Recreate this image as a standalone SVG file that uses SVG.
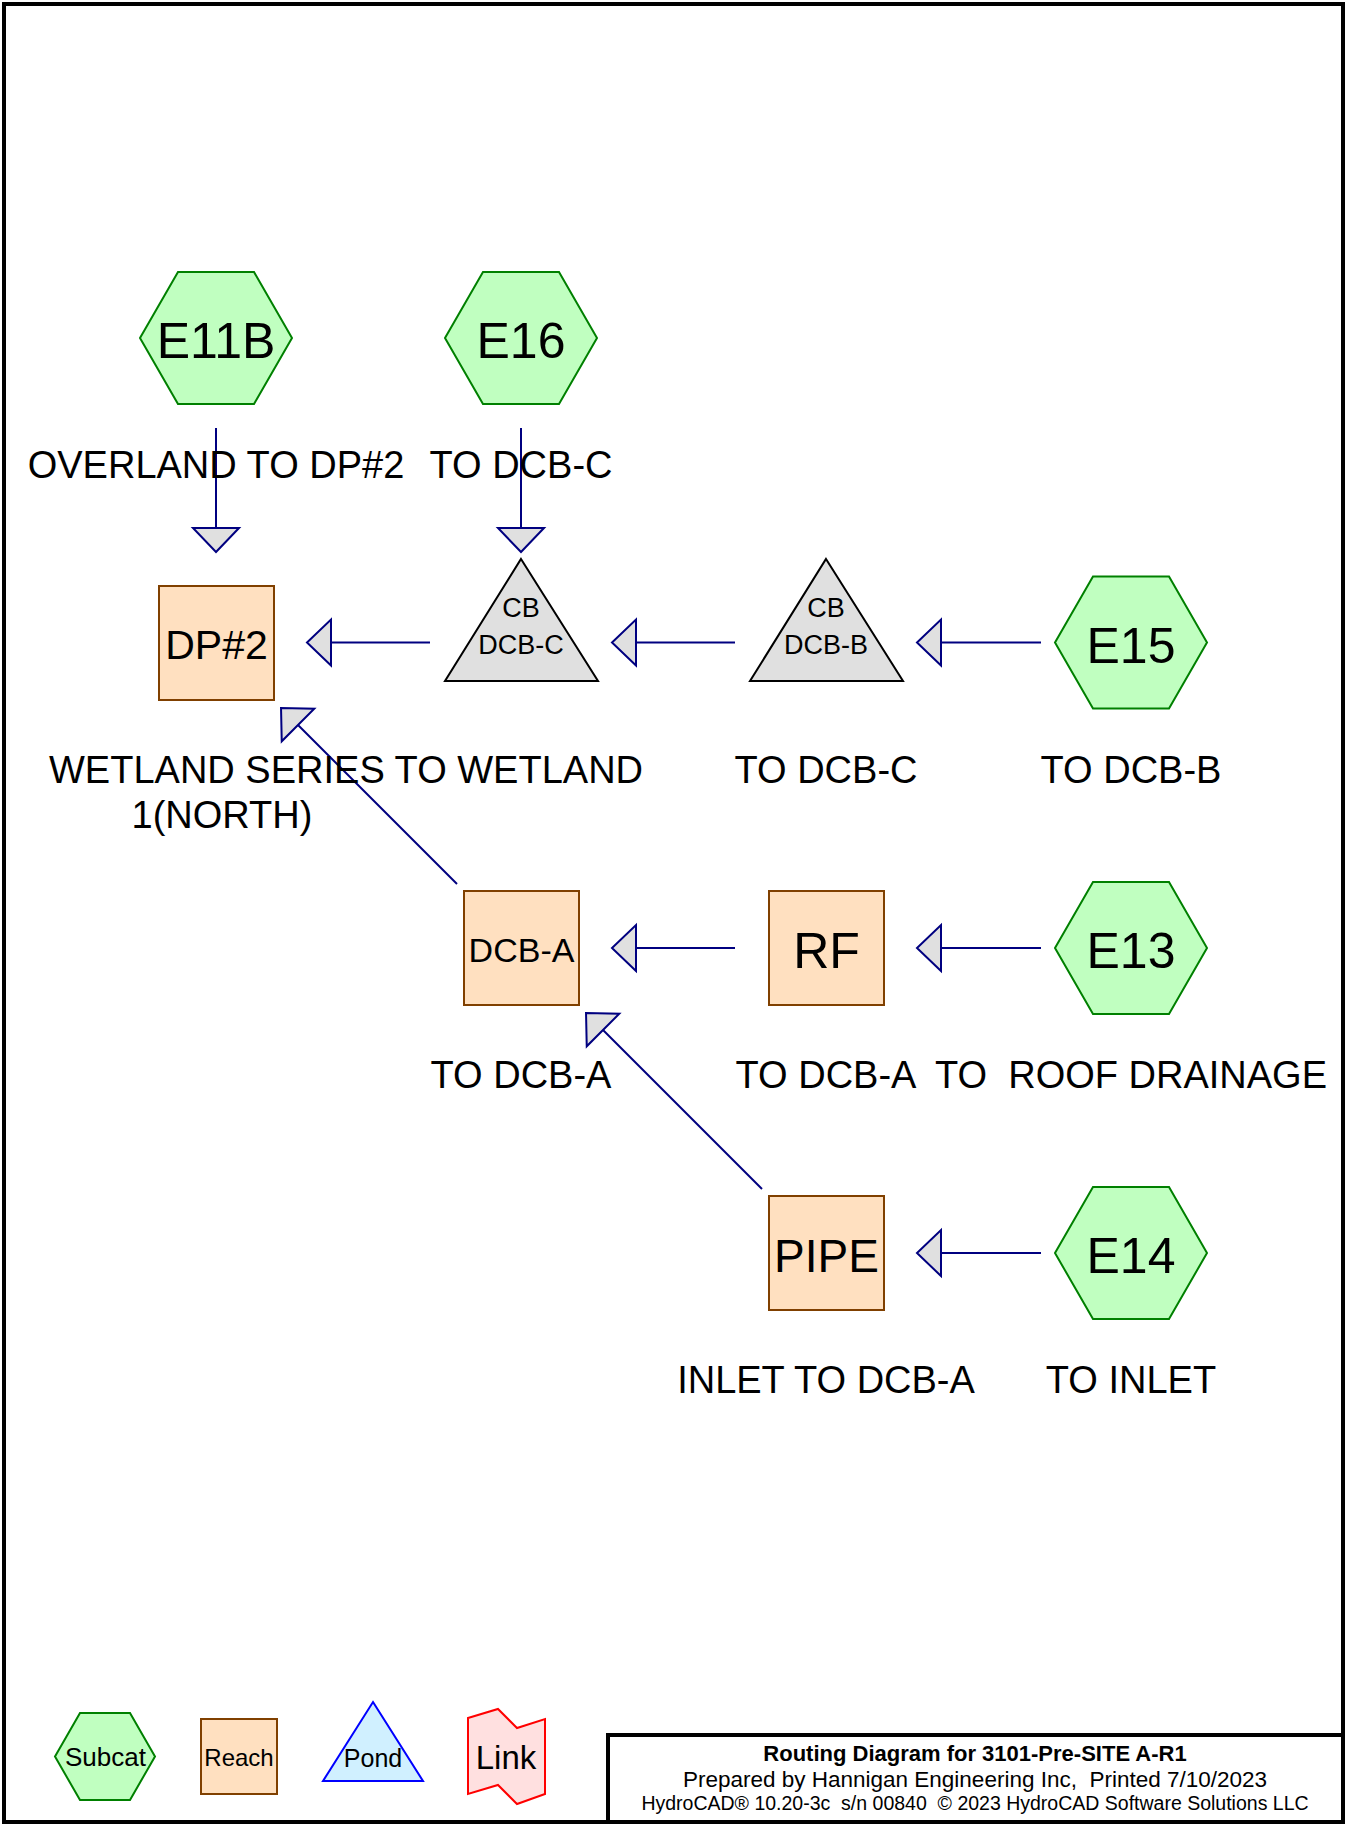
<svg xmlns="http://www.w3.org/2000/svg" width="1345" height="1825" viewBox="0 0 1345 1825">
<style>
text{font-family:"Liberation Sans",Arial,sans-serif;fill:#000}
.hex{fill:#c0ffc0;stroke:#008000;stroke-width:2}
.box{fill:#ffe0c0;stroke:#804000;stroke-width:2}
.pond{fill:#e0e0e0;stroke:#000;stroke-width:2}
.big{font-size:50px;text-anchor:middle}
.lbl{font-size:38px;text-anchor:middle}
.tri{font-size:27px;text-anchor:middle}
.con{stroke:#000080;stroke-width:2;fill:none}
.leg{font-size:25px;text-anchor:middle}
.ttl{text-anchor:middle}
</style>
<defs>
<marker id="ah" markerUnits="userSpaceOnUse" viewBox="-2 -26 30 52" markerWidth="30" markerHeight="52" refX="0" refY="0" orient="auto" overflow="visible">
<path d="M0,-23 L24,0 L0,23 Z" fill="#e0e0e0" stroke="#000080" stroke-width="2" stroke-linejoin="miter"/>
</marker>
</defs>
<rect x="0" y="0" width="1345" height="1825" fill="#fff"/>
<rect x="4" y="4" width="1339" height="1818" fill="none" stroke="#000" stroke-width="4"/>

<g id="connectors">
<line class="con" x1="216" y1="428" x2="216" y2="528" marker-end="url(#ah)"/>
<line class="con" x1="521" y1="428" x2="521" y2="528" marker-end="url(#ah)"/>
<line class="con" x1="430" y1="642.5" x2="331" y2="642.5" marker-end="url(#ah)"/>
<line class="con" x1="735" y1="642.5" x2="636" y2="642.5" marker-end="url(#ah)"/>
<line class="con" x1="1041" y1="642.5" x2="941" y2="642.5" marker-end="url(#ah)"/>
<line class="con" x1="735" y1="948" x2="636" y2="948" marker-end="url(#ah)"/>
<line class="con" x1="1041" y1="948" x2="941" y2="948" marker-end="url(#ah)"/>
<line class="con" x1="1041" y1="1253" x2="941" y2="1253" marker-end="url(#ah)"/>
<line class="con" x1="762" y1="1189" x2="603" y2="1030" marker-end="url(#ah)"/>
<line class="con" x1="457" y1="884" x2="298" y2="725" marker-end="url(#ah)"/>
</g>

<g id="E11B">
<polygon class="hex" points="140,338 178,272 254,272 292,338 254,404 178,404"/>
<text class="big" x="216" y="358">E11B</text>
<text class="lbl" x="216" y="478">OVERLAND TO DP#2</text>
</g>
<g id="E16">
<polygon class="hex" points="445,338 483,272 559,272 597,338 559,404 483,404"/>
<text class="big" x="521" y="358">E16</text>
<text class="lbl" x="521" y="478">TO DCB-C</text>
</g>

<g id="DP2">
<rect class="box" x="159" y="586" width="115" height="114"/>
<text x="216.5" y="659" style="font-size:41px;text-anchor:middle">DP#2</text>
<text x="49" y="783" style="font-size:38px">WETLAND SERIES TO WETLAND</text>
<text class="lbl" x="222" y="828">1(NORTH)</text>
</g>
<g id="DCB-C">
<polygon class="pond" points="521,559 598,681 445,681"/>
<text class="tri" x="521" y="617">CB</text>
<text class="tri" x="521" y="654">DCB-C</text>
</g>
<g id="DCB-B">
<polygon class="pond" points="826,559 903,681 750,681"/>
<text class="tri" x="826" y="617">CB</text>
<text class="tri" x="826" y="654">DCB-B</text>
<text class="lbl" x="826" y="783">TO DCB-C</text>
</g>
<g id="E15">
<polygon class="hex" points="1055,642.5 1093,576.5 1169,576.5 1207,642.5 1169,708.5 1093,708.5"/>
<text class="big" x="1131" y="662.5">E15</text>
<text class="lbl" x="1131" y="783">TO DCB-B</text>
</g>

<g id="DCB-A">
<rect class="box" x="464" y="891" width="115" height="114"/>
<text x="521.5" y="961.5" style="font-size:34px;text-anchor:middle">DCB-A</text>
<text class="lbl" x="521" y="1088">TO DCB-A</text>
</g>
<g id="RF">
<rect class="box" x="769" y="891" width="115" height="114"/>
<text class="big" x="826.5" y="968">RF</text>
<text class="lbl" x="826" y="1088">TO DCB-A</text>
</g>
<g id="E13">
<polygon class="hex" points="1055,948 1093,882 1169,882 1207,948 1169,1014 1093,1014"/>
<text class="big" x="1131" y="968">E13</text>
<text class="lbl" x="1131" y="1088" xml:space="preserve">TO  ROOF DRAINAGE</text>
</g>

<g id="PIPE">
<rect class="box" x="769" y="1196" width="115" height="114"/>
<text x="826.5" y="1271.5" style="font-size:46px;text-anchor:middle">PIPE</text>
<text class="lbl" x="826" y="1393">INLET TO DCB-A</text>
</g>
<g id="E14">
<polygon class="hex" points="1055,1253 1093,1187 1169,1187 1207,1253 1169,1319 1093,1319"/>
<text class="big" x="1131" y="1273">E14</text>
<text class="lbl" x="1131" y="1393">TO INLET</text>
</g>

<g id="legend">
<polygon class="hex" points="55,1756.5 80,1713 130,1713 155,1756.5 130,1800 80,1800"/>
<text class="leg" x="105.5" y="1766" style="font-size:26px">Subcat</text>
<rect class="box" x="201" y="1719" width="76" height="75"/>
<text class="leg" x="239" y="1766" style="font-size:24px">Reach</text>
<polygon points="373,1702 423,1781 323,1781" fill="#d0f0ff" stroke="#0000ff" stroke-width="2"/>
<text class="leg" x="373" y="1767">Pond</text>
<polygon points="468,1718 498,1709 517,1728 545,1719 545,1794 517,1804 498,1785 468,1794" fill="#ffe0e0" stroke="#ff0000" stroke-width="2"/>
<text class="leg" x="506" y="1769" style="font-size:33px">Link</text>
</g>

<g id="title">
<path d="M608,1822 V1735 H1343" fill="none" stroke="#000" stroke-width="4"/>
<text class="ttl" x="975" y="1761" style="font-size:22px;font-weight:bold">Routing Diagram for 3101-Pre-SITE A-R1</text>
<text class="ttl" x="975" y="1787" style="font-size:22.5px" xml:space="preserve">Prepared by Hannigan Engineering Inc,  Printed 7/10/2023</text>
<text class="ttl" x="975" y="1810" style="font-size:19.5px" xml:space="preserve">HydroCAD® 10.20-3c  s/n 00840  © 2023 HydroCAD Software Solutions LLC</text>
</g>
</svg>
